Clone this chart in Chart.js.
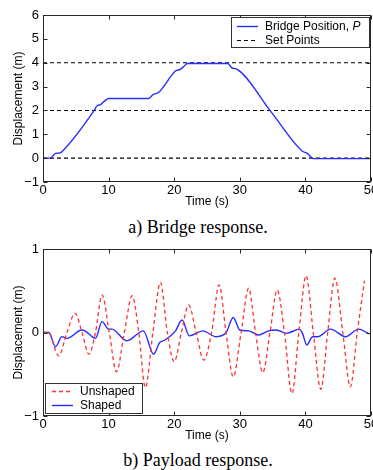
<!DOCTYPE html>
<html><head><meta charset="utf-8">
<script src="https://cdn.jsdelivr.net/npm/chart.js@4.4.0/dist/chart.umd.min.js"></script>
<style>
html,body{margin:0;padding:0;background:#fff;overflow:hidden;width:373px;height:470px;position:relative;}
canvas{position:absolute;left:0;}
.cap{position:absolute;left:0;width:396px;text-align:center;font-family:"Liberation Serif","Times New Roman",serif;font-size:18px;line-height:20px;color:#000;}
</style></head><body>
<canvas id="c1" width="390" height="209" style="top:0"></canvas>
<div class="cap" style="top:217px">a) Bridge response.</div>
<canvas id="c2" width="390" height="209" style="top:234px"></canvas>
<div class="cap" style="top:450px">b) Payload response.</div>
<script>
// ---- data ----
const timeRange = [0, 50];
const xTicks = [0, 10, 20, 30, 40, 50];
const bridgeTicksY = [-1, 0, 1, 2, 3, 4, 5, 6];
const payloadTicksY = [-1, 0, 1];

const bridgeTime = [0, 1.1, 1.6, 1.9, 2.6, 3.0, 7.8, 8.2, 8.8, 9.5, 10.0, 16.1, 16.6, 16.9, 17.6, 20.2, 20.9, 21.5, 22.0, 28.2, 28.8, 29.6, 34.8, 39.5, 40.3, 41.2, 50];
const bridgePosition = [0, 0, 0.12, 0.2, 0.22, 0.3, 2.0, 2.18, 2.25, 2.42, 2.5, 2.5, 2.62, 2.68, 2.75, 3.65, 3.72, 3.85, 3.97, 3.97, 3.78, 3.72, 1.93, 0.3, 0.2, -0.02, -0.02];
const setPointLevels = [0, 2, 4];

const unshapedTime = [0, 0.8, 2.4, 3.65, 4.9, 5.95, 7.0, 8.0, 9.0, 10.1, 11.2, 12.4, 13.6, 14.6, 15.6, 16.75, 17.9, 18.95, 20.0, 21.1, 22.2, 23.35, 24.5, 25.7, 26.85, 27.9, 29.0, 30.2, 31.35, 32.4, 33.5, 34.6, 35.7, 36.8, 37.95, 39.0, 40.1, 41.2, 42.35, 43.4, 44.5, 45.7, 46.85, 47.9, 49.0];
const unshapedDisp = [0, 0, -0.28, 0, 0.23, 0, -0.26, 0, 0.45, 0, -0.47, 0, 0.44, 0, -0.66, 0, 0.6, 0, -0.35, 0, 0.33, 0, -0.33, 0, 0.57, 0, -0.53, 0, 0.53, 0, -0.48, 0, 0.51, 0, -0.73, 0, 0.68, 0, -0.68, 0, 0.65, 0, -0.65, 0, 0.62];

const shapedTime = [0, 0.9, 1.9, 2.9, 3.65, 5.9, 6.4, 8.0, 9.0, 10.0, 10.5, 12.8, 15.3, 16.85, 17.8, 18.6, 20.2, 21.2, 22.3, 24.35, 26.35, 27.85, 29.0, 30.0, 31.35, 32.85, 34.35, 35.6, 37.1, 39.1, 39.6, 40.2, 41.1, 41.85, 43.85, 46.1, 48.1, 49.6, 50];
const shapedDisp = [0, 0, -0.17, -0.05, -0.07, 0.03, 0.02, -0.07, 0.13, 0.04, 0.04, -0.1, 0.02, -0.26, -0.12, -0.09, 0.02, 0.15, -0.04, 0.02, -0.05, -0.01, 0.18, 0.03, 0.02, -0.03, 0.02, 0.03, -0.01, 0.04, -0.02, -0.15, -0.05, -0.05, 0.04, -0.05, 0.04, -0.01, -0.02];

const pts = (xs, ys) => xs.map((x, i) => ({x, y: ys[i]}));
const minus = v => (v < 0 ? '\u2212' + Math.abs(v) : String(v));

Chart.defaults.font.family = '"Liberation Sans", Arial, sans-serif';
Chart.defaults.font.size = 12;
Chart.defaults.color = '#000';
Chart.defaults.devicePixelRatio = 1;

const blue = 'rgb(40,45,255)';
const red = 'rgb(255,50,50)';

const legendCfg = {
  c1: {
    box: a => ({l: a.left + 188, r: a.right - 2, t: a.top + 2, b: a.top + 32}),
    rows: [8.5, 23], lineX: [6, 27], textX: 34,
    items: [
      {text: 'Bridge Position, ', italic: 'P', color: blue, width: 1.4},
      {text: 'Set Points', color: '#000', width: 1.1, dash: [4, 3]}
    ]
  },
  c2: {
    box: a => ({l: a.left + 2, r: a.left + 99, t: a.bottom - 33, b: a.bottom - 3}),
    rows: [8, 22], lineX: [7, 28], textX: 35,
    items: [
      {text: 'Unshaped', color: red, width: 1.3, dash: [4, 3]},
      {text: 'Shaped', color: blue, width: 1.4}
    ]
  }
};

const framePlugin = {
  id: 'frame',
  afterDatasetsDraw(chart) {
    const ctx = chart.ctx, a = chart.chartArea, xs = chart.scales.x, ys = chart.scales.y;
    ctx.save();
    ctx.setLineDash([]);
    ctx.strokeStyle = '#262626'; ctx.lineWidth = 1;
    const L = Math.round(a.left) + 0.5, T = Math.round(a.top) + 0.5, R = Math.round(a.right) - 0.5, B = Math.round(a.bottom) - 0.5;
    ctx.strokeRect(L, T, R - L, B - T);
    ctx.beginPath();
    xs.ticks.forEach(t => {
      const p = Math.round(xs.getPixelForValue(t.value)) + 0.5;
      ctx.moveTo(p, B); ctx.lineTo(p, B - 4); ctx.moveTo(p, T); ctx.lineTo(p, T + 4);
    });
    ys.ticks.forEach(t => {
      const p = Math.round(ys.getPixelForValue(t.value)) + 0.5;
      ctx.moveTo(L, p); ctx.lineTo(L + 4, p); ctx.moveTo(R, p); ctx.lineTo(R - 4, p);
    });
    ctx.stroke();
    const lg = legendCfg[chart.canvas.id];
    if (lg) {
      const bx = lg.box(a);
      ctx.fillStyle = '#fff';
      ctx.fillRect(bx.l, bx.t, bx.r - bx.l, bx.b - bx.t);
      ctx.strokeStyle = '#333'; ctx.lineWidth = 1;
      ctx.strokeRect(Math.round(bx.l) + 0.5, Math.round(bx.t) + 0.5, Math.round(bx.r - bx.l), Math.round(bx.b - bx.t));
      lg.items.forEach((it, i) => {
        const y = Math.round(bx.t + lg.rows[i]) + 0.5;
        ctx.beginPath();
        ctx.strokeStyle = it.color; ctx.lineWidth = it.width; ctx.setLineDash(it.dash || []);
        ctx.moveTo(bx.l + lg.lineX[0], y); ctx.lineTo(bx.l + lg.lineX[1], y); ctx.stroke();
        ctx.setLineDash([]);
        ctx.fillStyle = '#000'; ctx.textBaseline = 'middle'; ctx.textAlign = 'left';
        ctx.font = '12px "Liberation Sans", Arial, sans-serif';
        ctx.fillText(it.text, bx.l + lg.textX, y);
        if (it.italic) {
          const w = ctx.measureText(it.text).width;
          ctx.font = 'italic 12px "Liberation Sans", Arial, sans-serif';
          ctx.fillText(it.italic, bx.l + lg.textX + w, y);
        }
      });
    }
    ctx.restore();
  }
};

function makeOptions(yMin, yMax, yTicks) {
  return {
    responsive: false, animation: false, devicePixelRatio: 1,
    layout: {padding: {top: 15, right: 19, left: 0, bottom: 0}},
    plugins: {legend: {display: false}, tooltip: {enabled: false}},
    elements: {point: {radius: 0}},
    scales: {
      x: {
        type: 'linear', min: timeRange[0], max: timeRange[1],
        afterBuildTicks: s => { s.ticks = xTicks.map(v => ({value: v})); },
        afterFit: s => { s.height = 27; },
        grid: {display: false, drawTicks: false}, border: {display: false},
        ticks: {padding: 1, maxRotation: 0, autoSkip: false, font: {size: 13}},
        title: {display: true, text: 'Time (s)', padding: 0, font: {size: 12}}
      },
      y: {
        type: 'linear', min: yMin, max: yMax,
        afterBuildTicks: s => { s.ticks = yTicks.map(v => ({value: v})); },
        afterFit: s => { s.width = 43; },
        grid: {display: false, drawTicks: false}, border: {display: false},
        ticks: {padding: 4, autoSkip: false, callback: v => minus(v), font: {size: 13}},
        title: {display: true, text: 'Displacement (m)', padding: {top: 11, bottom: 0}, font: {size: 12}}
      }
    }
  };
}

new Chart(document.getElementById('c1'), {
  type: 'line',
  data: {
    datasets: [
      {data: pts(bridgeTime, bridgePosition), borderColor: blue, borderWidth: 1.4, cubicInterpolationMode: 'monotone', fill: false},
      ...setPointLevels.map(l => ({data: pts(timeRange, [l, l]), borderColor: '#000', borderWidth: 1.1, borderDash: [4, 3], fill: false}))
    ]
  },
  options: makeOptions(-1, 6, bridgeTicksY),
  plugins: [framePlugin]
});

new Chart(document.getElementById('c2'), {
  type: 'line',
  data: {
    datasets: [
      {data: pts(unshapedTime, unshapedDisp), borderColor: red, borderWidth: 1.3, borderDash: [4, 3], cubicInterpolationMode: 'monotone', fill: false},
      {data: pts(shapedTime, shapedDisp), borderColor: blue, borderWidth: 1.4, cubicInterpolationMode: 'monotone', fill: false}
    ]
  },
  options: makeOptions(-1, 1, payloadTicksY),
  plugins: [framePlugin]
});
</script>
</body></html>
